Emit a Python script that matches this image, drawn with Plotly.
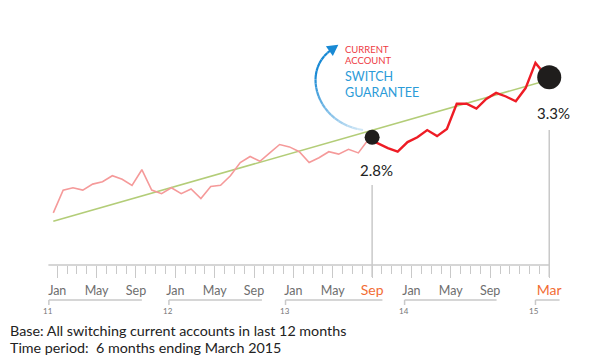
import plotly.graph_objects as go

W, H = 600, 360
MT, MB = 0, 95
PLOT_H = H - MT - MB

# ---------------- data ----------------
# month index: 0 = Jan 2011 ... 50 = Mar 2015
months_before = list(range(0, 33))          # Jan 2011 - Sep 2013
rate_before = [2.17, 2.36, 2.38, 2.36, 2.41, 2.43, 2.48, 2.45, 2.40, 2.53,
               2.36, 2.33, 2.38, 2.33, 2.37, 2.29, 2.39, 2.40, 2.48, 2.59,
               2.64, 2.60, 2.67, 2.74, 2.72, 2.68, 2.59, 2.63, 2.68, 2.66,
               2.70, 2.67, 2.78]
months_after = list(range(32, 51))          # Sep 2013 - Mar 2015
rate_after = [2.78, 2.75, 2.71, 2.68, 2.76, 2.80, 2.86, 2.81, 2.87, 3.08,
              3.08, 3.04, 3.12, 3.17, 3.14, 3.10, 3.21, 3.42, 3.32]

trend_months = [0, 50.4]
trend_values = [2.10, 3.28]

hl_months = [32, 50]
hl_values = [2.8, 3.3]
hl_labels = ["2.8%", "3.3%"]
hl_sizes = [15, 24]

tick_shift = 0.4
label_months = [0, 4, 8, 12, 16, 20, 24, 28, 32, 36, 40, 44, 48, 50]
label_text = ["Jan", "May", "Sep", "Jan", "May", "Sep", "Jan", "May", "Sep",
              "Jan", "May", "Sep", "", "Mar"]
orange_labels = [32, 50]

years = ["11", "12", "13", "14", "15"]
year_start = [-0.85, 11.35, 23.2, 35.3, 48.6]
year_end = [8.6, 20.8, 33.05, 44.65, 51.05]

# ---------------- scale helpers ----------------
PX0, PPM = 53.3, 9.84
xr = [-PX0 / PPM, (W - PX0) / PPM]
yr = [1.736, 3.944]


def ppx(px):
    return px / W


def ppy(py):
    return (H - MB - py) / PLOT_H


GRAY = "#c9c9c9"
ORANGE = "#f26d35"
FONT = "Lato"

fig = go.Figure()

fig.add_trace(go.Scatter(x=trend_months, y=trend_values, mode="lines",
                         line=dict(color="#b3cd78", width=1.6),
                         hoverinfo="skip"))
fig.add_trace(go.Scatter(x=months_before, y=rate_before, mode="lines",
                         line=dict(color="#f59a9a", width=1.6),
                         hoverinfo="skip"))
fig.add_trace(go.Scatter(x=months_after, y=rate_after, mode="lines",
                         line=dict(color="#ee1c25", width=2.4),
                         hoverinfo="skip"))
fig.add_trace(go.Scatter(x=[m + tick_shift for m in hl_months], y=hl_values,
                         mode="markers",
                         marker=dict(color="#1f1d1c", size=hl_sizes,
                                     opacity=1, line=dict(width=0)),
                         hoverinfo="skip"))

shapes = []
annotations = []

# axis baseline
shapes.append(dict(type="line", xref="x", yref="paper",
                   x0=-0.9 + tick_shift, x1=50 + tick_shift, y0=0, y1=0,
                   line=dict(color=GRAY, width=1.5)))

# vertical guide lines from highlight labels to the axis
guide_top = [185, 130]
for m, top in zip(hl_months, guide_top):
    shapes.append(dict(type="line", xref="x", yref="paper",
                       x0=m + tick_shift, x1=m + tick_shift,
                       y0=ppy(top), y1=ppy(277),
                       line=dict(color=GRAY, width=1.5)))

for m, v, lab, dy in zip(hl_months, hl_values, hl_labels, [-33, -36]):
    annotations.append(dict(x=m + tick_shift, y=v, xref="x", yref="y",
                            text=lab, showarrow=False, xshift=4, yshift=dy,
                            font=dict(family=FONT, size=15, color="#222222")))

# year brackets
for yl, s, e in zip(years, year_start, year_end):
    shapes.append(dict(type="line", xref="x", yref="paper",
                       x0=s + tick_shift, x1=e + tick_shift,
                       y0=ppy(300), y1=ppy(300),
                       line=dict(color=GRAY, width=1.5)))
    shapes.append(dict(type="line", xref="x", yref="paper",
                       x0=s + tick_shift, x1=s + tick_shift,
                       y0=ppy(300), y1=ppy(305),
                       line=dict(color=GRAY, width=1.5)))
    annotations.append(dict(x=s + tick_shift, y=ppy(311), xref="x",
                            yref="paper", text=yl, showarrow=False,
                            xanchor="center", yanchor="middle", xshift=-1,
                            font=dict(family=FONT, size=8, color="#777777")))

# blue curved arrow (gradient)
P = [(363, 130), (318, 124), (300, 72), (331, 50)]
N = 24
pts = []
for i in range(N + 1):
    t = i / N
    a, b, c, d = (1 - t) ** 3, 3 * (1 - t) ** 2 * t, 3 * (1 - t) * t ** 2, t ** 3
    pts.append((a * P[0][0] + b * P[1][0] + c * P[2][0] + d * P[3][0],
                a * P[0][1] + b * P[1][1] + c * P[2][1] + d * P[3][1]))
c0 = (214, 234, 248)
c1 = (24, 137, 212)
for i in range(N):
    t = (i + 0.5) / N
    t2 = min(1.0, t * 1.4)
    col = tuple(int(c0[k] + (c1[k] - c0[k]) * t2) for k in range(3))
    shapes.append(dict(type="line", xref="paper", yref="paper",
                       x0=ppx(pts[i][0]), y0=ppy(pts[i][1]),
                       x1=ppx(pts[i + 1][0]), y1=ppy(pts[i + 1][1]),
                       line=dict(color="rgb(%d,%d,%d)" % col, width=2.2)))
dx, dy = 0.815, -0.578
ex, ey = P[3]
tip = (ex + dx * 9, ey + dy * 9)
base = (ex - dx * 2, ey - dy * 2)
pxv, pyv = -dy, dx
c1p = (base[0] + pxv * 6, base[1] + pyv * 6)
c2p = (base[0] - pxv * 6, base[1] - pyv * 6)
path = "M %f %f L %f %f L %f %f Z" % (ppx(tip[0]), ppy(tip[1]),
                                      ppx(c1p[0]), ppy(c1p[1]),
                                      ppx(c2p[0]), ppy(c2p[1]))
shapes.append(dict(type="path", xref="paper", yref="paper", path=path,
                   fillcolor="#1889d4", line=dict(width=0)))

# callout text
callout = [("CURRENT", 49.3, 9.5, "#ee3a43"), ("ACCOUNT", 61, 9.5, "#ee3a43"),
           ("SWITCH", 76, 12.5, "#2b9bd8"), ("GUARANTEE", 92, 12.5, "#2b9bd8")]
for txt, py, fs, col in callout:
    annotations.append(dict(x=ppx(343), y=ppy(py), xref="paper", yref="paper",
                            text=txt, showarrow=False, xanchor="left",
                            yanchor="middle",
                            font=dict(family=FONT, size=fs, color=col)))

# footnotes
foot = [("Base: All switching current accounts in last 12 months", 330),
        ("Time period:  6 months ending March 2015", 347)]
for txt, py in foot:
    annotations.append(dict(x=ppx(8), y=ppy(py), xref="paper", yref="paper",
                            text=txt, showarrow=False, xanchor="left",
                            yanchor="middle",
                            font=dict(family=FONT, size=14.3, color="#222222")))

ticktext = []
for m, t in zip(label_months, label_text):
    if m in orange_labels:
        ticktext.append('<span style="color:%s;font-size:14px">%s</span>' % (ORANGE, t))
    else:
        ticktext.append(t)

fig.update_layout(
    width=W, height=H,
    margin=dict(l=0, r=0, t=MT, b=MB),
    paper_bgcolor="white", plot_bgcolor="white",
    showlegend=False,
    shapes=shapes, annotations=annotations,
    xaxis=dict(range=xr, showgrid=False, zeroline=False, showline=False,
               tickmode="array",
               tickvals=[m + tick_shift for m in label_months],
               ticktext=ticktext, ticks="outside", ticklen=12,
               tickwidth=1, tickcolor=GRAY, ticklabelstandoff=2,
               tickfont=dict(family=FONT, size=12.5, color="#6e6e6e"),
               minor=dict(tickmode="array",
                          tickvals=[m + tick_shift for m in range(51)],
                          ticks="outside", ticklen=8, tickwidth=1,
                          tickcolor=GRAY, showgrid=False),
               fixedrange=True),
    yaxis=dict(range=yr, visible=False, fixedrange=True),
)

fig.write_html("out.html", config={"displayModeBar": False},
               post_script="document.body.style.margin='0px';"
                           "document.body.style.overflow='hidden';")
